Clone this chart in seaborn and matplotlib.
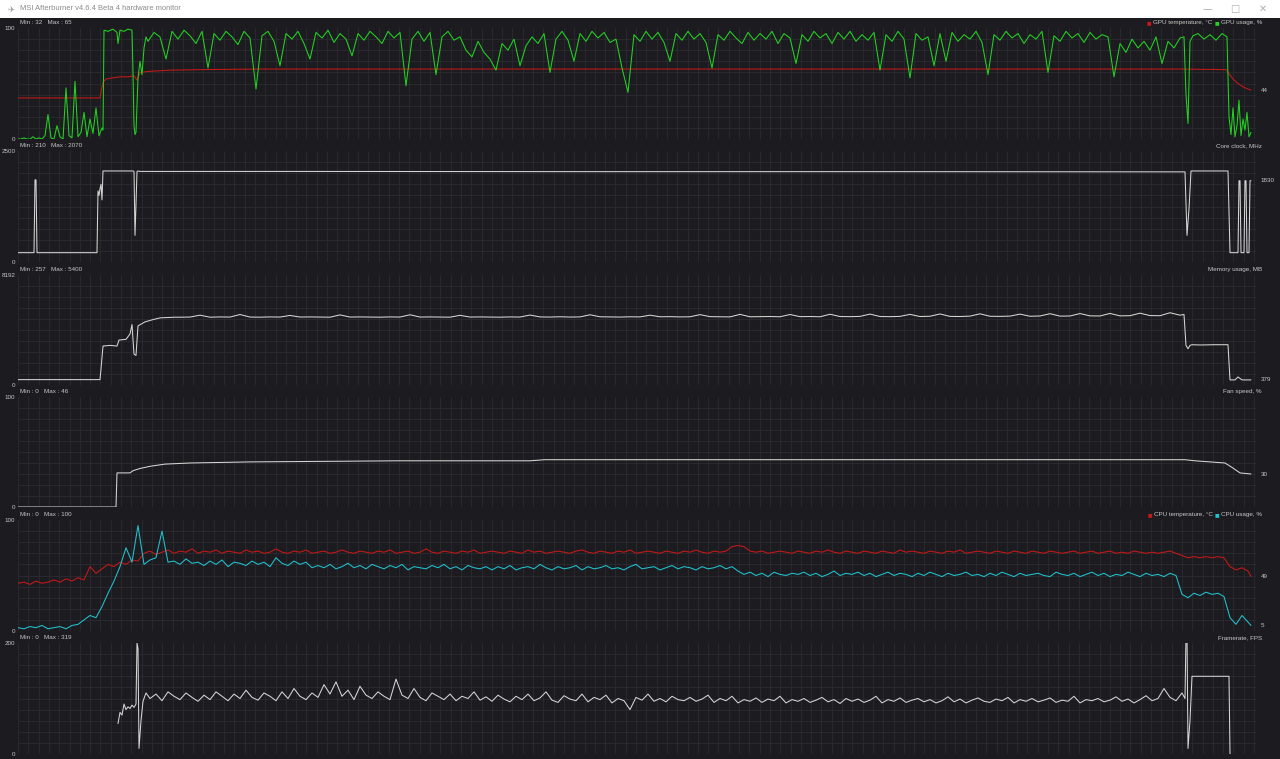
import numpy as np
import pandas as pd
import seaborn as sns
import matplotlib.pyplot as plt
from matplotlib.patches import Rectangle

sns.set_style('dark')
plt.rcParams['font.family'] = ['Liberation Sans', 'DejaVu Sans']
plt.rcParams['font.size'] = 5

BG = '#1c1c20'
GRID = '#2b2b31'
TXT = '#c8c8c8'
GREEN = '#22d422'
RED = '#c81818'
CYAN = '#20c4d0'
WHITE = '#d6d6d6'
FS = 4.5


def ramp(start, step, vals):
    return [start + step * i for i in range(len(vals))]


# ---- GPU usage, % (time in samples) ----
gpu_use_head = [0, 0, 1, 0, 0, 2, 0, 1, 0, 3, 22, 1, 0, 12, 2, 0, 46, 3, 1, 52,
                2, 6, 24, 2, 18, 5, 28, 3, 10]
gpu_use_jump_t = [85, 86, 90, 95, 99, 100, 101, 102, 106, 110, 114, 115, 116, 117,
                  118, 119, 120, 122, 124, 126, 128]
gpu_use_jump = [8, 98, 97, 99, 96, 86, 92, 98, 97, 99, 98, 60, 12, 4, 6, 30, 55,
                70, 58, 82, 92]
gpu_use_main = [88, 96, 92, 72, 97, 90, 98, 93, 86, 97,
                64, 95, 89, 97, 92, 85, 97, 91, 45, 93,
                97, 88, 66, 95, 90, 97, 86, 72, 96, 91,
                98, 87, 95, 90, 75, 95, 89, 97, 92, 86,
                97, 91, 96, 48, 90, 97, 88, 96, 58, 92,
                97, 89, 92, 80, 74, 88, 78, 72, 62, 86,
                80, 90, 66, 84, 92, 86, 95, 60, 90, 97,
                89, 70, 95, 88, 97, 91, 96, 87, 90, 64,
                42, 94, 88, 97, 90, 96, 87, 70, 95, 89,
                97, 90, 95, 87, 64, 94, 89, 97, 91, 86,
                96, 89, 95, 90, 97, 86, 95, 91, 68, 94,
                88, 97, 91, 95, 86, 96, 90, 97, 88, 94,
                89, 96, 62, 94, 88, 97, 90, 55, 95, 89,
                92, 66, 95, 70, 96, 88, 94, 90, 97, 87,
                58, 94, 89, 97, 91, 95, 86, 94, 90, 97,
                60, 93, 88, 97, 91, 95, 87, 96, 90, 94,
                92, 56, 86, 78, 90, 82, 88, 80, 92, 68,
                88, 82, 91]
gpu_use_tail_t = [1166, 1168, 1170, 1172, 1175, 1180, 1186, 1192, 1198, 1204, 1209,
                  1211, 1213, 1215, 1217, 1219, 1221, 1223, 1225, 1227, 1229, 1231, 1233]
gpu_use_tail = [92, 40, 14, 88, 93, 95, 90, 94, 89, 95, 92, 20, 4, 28, 2, 12, 35,
                3, 18, 8, 24, 2, 6]

# ---- GPU temperature, C ----
gpu_temp_t = [0, 82, 83, 85, 88, 94, 102, 110, 116, 119, 122, 132, 152, 182, 242,
              382, 582, 782, 982, 1082, 1162, 1208, 1211, 1215, 1220, 1225, 1230, 1233]
gpu_temp = [37, 37, 42, 51, 54, 55, 56, 56, 57, 53, 60, 61, 62, 62.5, 63, 63, 63,
            63, 63, 63, 63, 62.5, 59, 54, 50, 47, 45, 44]

# ---- Core clock, MHz ----
clock_t = [0, 16, 17, 18, 19, 20, 79, 80, 81, 82, 83, 84, 85, 115, 116, 117, 118,
           119, 120, 122, 282, 582, 882, 1166, 1167, 1169, 1171, 1173, 1210, 1212,
           1220, 1221, 1222, 1223, 1226, 1227, 1228, 1229, 1231, 1232, 1233]
clock = [210, 210, 1850, 1850, 210, 210, 210, 1600, 1500, 1650, 1750, 1400, 2050,
         2050, 2040, 600, 1300, 2040, 2050, 2040, 2040, 2035, 2035, 2030, 2030, 600,
         1200, 2050, 2050, 210, 210, 1830, 1830, 210, 210, 1830, 1830, 210, 210,
         1830, 1830]

# ---- Memory usage, MB ----
mem_head_t = [0, 82, 83, 85, 92, 99, 101, 108, 112, 114, 116, 118, 120, 127, 134,
              142, 157]
mem_head = [400, 400, 1200, 2900, 2950, 2900, 3350, 3400, 3800, 4500, 2300, 2200,
            4400, 4700, 4850, 5000, 5050]
mem_main = [5050, 5060, 5200, 5050, 5070, 5060, 5250, 5060, 5050, 5070,
            5060, 5180, 5060, 5070, 5060, 5050, 5220, 5060, 5070, 5060,
            5050, 5070, 5060, 5230, 5060, 5070, 5060, 5050, 5190, 5060,
            5070, 5060, 5050, 5070, 5060, 5210, 5070, 5060, 5080, 5060,
            5070, 5230, 5080, 5070, 5060, 5080, 5070, 5200, 5080, 5090,
            5070, 5080, 5240, 5090, 5080, 5070, 5260, 5080, 5090, 5100,
            5080, 5250, 5090, 5100, 5080, 5270, 5100, 5090, 5110, 5280,
            5100, 5090, 5110, 5260, 5100, 5120, 5290, 5110, 5100, 5130,
            5300, 5120, 5110, 5130, 5280, 5120, 5140, 5310, 5130, 5140,
            5320, 5150, 5140, 5330, 5150, 5160, 5350, 5170, 5160, 5380,
            5200]
mem_tail_t = [1166, 1168, 1170, 1172, 1174, 1182, 1197, 1210, 1212, 1217, 1220,
              1224, 1233]
mem_tail = [5250, 2950, 2700, 2950, 3000, 2980, 3000, 3000, 380, 380, 600, 380, 379]

# ---- Fan speed, % ----
fan_t = [0, 98, 99, 112, 115, 122, 132, 147, 172, 232, 382, 512, 527, 682, 982,
         1167, 1177, 1192, 1207, 1214, 1222, 1233]
fan = [0, 0, 31, 31, 33, 35, 37, 39, 40, 41, 42, 42, 43, 43, 43, 43, 42, 41, 40,
       36, 31, 30]

# ---- CPU temperature, C ----
cpu_temp = [43, 44, 42, 45, 43, 44, 46, 44, 47, 45,
            48, 46, 58, 52, 56, 60, 58, 62, 60, 64,
            63, 70, 72, 69, 71, 73, 70, 72, 71, 74,
            70, 72, 71, 73, 70, 72, 71, 70, 73, 71,
            72, 70, 71, 74, 71, 70, 72, 71, 73, 70,
            71, 72, 70, 71, 73, 71, 70, 72, 71, 70,
            72, 71, 73, 70, 71, 72, 70, 71, 74, 71,
            70, 72, 71, 70, 72, 71, 73, 70, 71, 72,
            71, 70, 72, 71, 70, 73, 71, 72, 70, 71,
            72, 71, 70, 72, 73, 71, 70, 72, 71, 70,
            72, 71, 73, 70, 71, 72, 71, 70, 72, 71,
            70, 72, 71, 73, 71, 70, 72, 71, 72, 76,
            77, 76, 72, 71, 72, 70, 71, 72, 71, 70,
            72, 71, 70, 72, 71, 73, 71, 70, 72, 71,
            70, 72, 71, 70, 72, 71, 70, 73, 71, 72,
            71, 70, 72, 71, 70, 72, 71, 73, 70, 71,
            72, 71, 70, 72, 71, 70, 72, 71, 70, 72,
            71, 70, 72, 71, 70, 71, 72, 70, 71, 72,
            70, 71, 72, 70, 71, 70, 72, 71, 70, 71,
            70, 71, 72, 70, 68, 66, 67, 66, 67, 66,
            67, 66, 58, 55, 57, 54, 49]

# ---- CPU usage, % ----
cpu_use = [3, 2, 4, 3, 5, 2, 3, 4, 2, 5,
           6, 10, 14, 12, 22, 34, 45, 58, 75, 62,
           95, 60, 64, 66, 90, 62, 63, 60, 65, 61,
           62, 59, 63, 60, 64, 58, 62, 61, 59, 63,
           60, 62, 58, 66, 61, 59, 63, 60, 62, 57,
           59, 57, 60, 56, 58, 61, 57, 59, 56, 60,
           58, 56, 59, 57, 60, 55, 58, 57, 56, 59,
           57, 60, 56, 58, 55, 59, 57, 56, 58, 55,
           58, 56, 59, 55, 57, 58, 56, 60, 57, 55,
           58, 56, 57, 59, 55, 58, 56, 57, 59, 56,
           57, 55, 58, 60, 56, 57, 58, 55, 57, 59,
           56, 58, 57, 55, 58, 56, 57, 59, 56, 58,
           54, 51, 53, 50, 52, 49, 53, 51, 50, 52,
           51, 53, 50, 52, 49, 51, 54, 50, 52, 51,
           53, 50, 52, 49, 51, 53, 50, 52, 51, 49,
           52, 50, 53, 51, 49, 52, 50, 51, 53, 50,
           51, 49, 52, 50, 53, 51, 49, 52, 50, 51,
           52, 50, 49, 53, 51, 50, 52, 49, 51, 53,
           50, 52, 49, 51, 50, 53, 51, 49, 52, 50,
           51, 49, 52, 50, 33, 30, 34, 32, 35, 33,
           34, 31, 12, 6, 14, 8, 5]

# ---- Framerate, FPS ----
fps_head_t = [100, 102, 104, 106, 108, 110, 112, 114, 116, 118, 119, 120, 121, 123,
              125, 128]
fps_head = [55, 75, 70, 90, 80, 85, 82, 88, 84, 90, 200, 190, 10, 60, 95, 110]
fps_main = [100, 108, 96, 112, 104, 98, 110, 102, 95, 106,
            98, 112, 104, 96, 108, 100, 115, 102, 97, 110,
            104, 96, 112, 100, 118, 104, 98, 110, 102, 125,
            108, 130, 104, 115, 98, 122, 106, 100, 112, 104,
            98, 135, 106, 100, 118, 102, 96, 110, 104, 98,
            108, 96, 104, 100, 112, 97, 103, 95, 106, 99,
            94, 104, 98, 108, 96, 101, 112, 97, 93, 105,
            99, 96, 108, 94, 102, 98, 106, 92, 100, 96,
            80, 102, 97, 108, 95, 100, 94, 104, 98, 96,
            102, 95, 99, 106, 93, 100, 96, 104, 92, 98,
            95, 101, 93, 99, 96, 104, 92, 98, 95, 100,
            93, 97, 102, 94, 98, 91, 100, 95, 99, 93,
            97, 104, 92, 98, 95, 101, 93, 97, 100, 94,
            98, 92, 96, 103, 94, 99, 92, 97, 101, 95,
            93, 99, 96, 102, 92, 98, 95, 100, 94, 97,
            101, 93, 97, 95, 104, 92, 98, 96, 100, 94,
            97, 103, 95, 99, 92, 98, 105, 96, 100, 118,
            102, 96, 110]
fps_tail_t = [1167, 1168, 1169, 1170, 1172, 1174, 1210, 1211, 1212]
fps_tail = [100, 215, 215, 10, 60, 140, 140, 140, 0]


def frame(*parts):
    t, v = [], []
    for times, vals in parts:
        t += list(times)
        v += list(vals)
    return pd.DataFrame({'t': t, 'v': v})


cpu_t = ramp(0, 6, cpu_temp[:-1]) + [1233]

series = {
    'gpu_use': frame((ramp(0, 3, gpu_use_head), gpu_use_head), (gpu_use_jump_t, gpu_use_jump),
                     (ramp(130, 6, gpu_use_main), gpu_use_main), (gpu_use_tail_t, gpu_use_tail)),
    'gpu_temp': frame((gpu_temp_t, gpu_temp)),
    'clock': frame((clock_t, clock)),
    'mem': frame((mem_head_t, mem_head), (ramp(162, 10, mem_main), mem_main), (mem_tail_t, mem_tail)),
    'fan': frame((fan_t, fan)),
    'cpu_temp': frame((cpu_t, cpu_temp)),
    'cpu_use': frame((cpu_t, cpu_use)),
    'fps': frame((fps_head_t, fps_head), (ramp(132, 6, fps_main), fps_main), (fps_tail_t, fps_tail)),
}

# panel layout in pixels: (top, bottom)
W, H = 1280, 759
LEFT, RIGHT = 18, 1256
panels = [
    dict(top=28, bot=139, ymax=100, mm='Min : 32   Max : 65', lines=[('gpu_temp', RED), ('gpu_use', GREEN)],
         legend=[('GPU temperature, \u00b0C', RED), ('GPU usage, %', GREEN)], cur='44', cur_v=44),
    dict(top=151, bot=262, ymax=2500, mm='Min : 210   Max : 2070', lines=[('clock', WHITE)],
         legend=[('Core clock, MHz', None)], cur='1830', cur_v=1830),
    dict(top=275, bot=385, ymax=8192, mm='Min : 257   Max : 5400', lines=[('mem', WHITE)],
         legend=[('Memory usage, MB', None)], cur='379', cur_v=379),
    dict(top=397, bot=507, ymax=100, mm='Min : 0   Max : 46', lines=[('fan', WHITE)],
         legend=[('Fan speed, %', None)], cur='30', cur_v=30),
    dict(top=520, bot=631, ymax=100, mm='Min : 0   Max : 100', lines=[('cpu_temp', RED), ('cpu_use', CYAN)],
         legend=[('CPU temperature, \u00b0C', RED), ('CPU usage, %', CYAN)], cur='49', cur_v=49, cur2='5', cur2_v=5),
    dict(top=643, bot=754, ymax=200, mm='Min : 0   Max : 319', lines=[('fps', WHITE)],
         legend=[('Framerate, FPS', None)], cur=None),
]

fig = plt.figure(figsize=(12.8, 7.59), dpi=100, facecolor=BG)

# window title bar
TB = 18
fig.patches.append(Rectangle((0, 1 - TB / H), 1, TB / H, transform=fig.transFigure,
                             facecolor='white', edgecolor='none', zorder=0))
fig.text(20 / W, 1 - 9 / H, 'MSI Afterburner v4.6.4 Beta 4 hardware monitor',
         color='#8a8a8a', fontsize=5.4, va='center', ha='left')
fig.text(7 / W, 1 - 9 / H, '\u2708', color='#9a9a9a', fontsize=6, va='center', ha='left',
         family='DejaVu Sans')
for xp, s in [(1207, '\u2014'), (1235, '\u25a1'), (1263, '\u2715')]:
    fig.text(xp / W, 1 - 9 / H, s, color='#b0b0b0', fontsize=7, va='center', ha='center',
             family='DejaVu Sans')

for p in panels:
    ax = fig.add_axes([LEFT / W, 1 - p['bot'] / H, (RIGHT - LEFT) / W, (p['bot'] - p['top']) / H])
    ax.set_facecolor(BG)
    for key, col in p['lines']:
        sns.lineplot(data=series[key], x='t', y='v', ax=ax, color=col, linewidth=0.75,
                     estimator=None, sort=False)
    ax.set_xlim(0, RIGHT - LEFT)
    ax.set_ylim(0, p['ymax'])
    ax.set_xticks(np.arange(0, RIGHT - LEFT, 10.3), minor=True)
    ax.set_yticks(np.linspace(0, p['ymax'], 11), minor=True)
    ax.set_yticks([0, p['ymax']])
    ax.set_yticklabels(['0', str(p['ymax'])])
    ax.set_xticks([])
    ax.tick_params(axis='y', which='both', length=0, pad=2, labelsize=FS, labelcolor=TXT)
    ax.tick_params(axis='x', which='both', length=0)
    ax.grid(which='minor', color=GRID, linewidth=0.6)
    ax.set_xlabel('')
    ax.set_ylabel('')
    for s in ax.spines.values():
        s.set_visible(False)

    # min / max header and legend
    fig.text(20 / W, 1 - (p['top'] - 5.5) / H, p['mm'], color=TXT, fontsize=FS, va='center', ha='left')
    xr = 1262
    for label, col in reversed(p['legend']):
        t = fig.text(xr / W, 1 - (p['top'] - 5.5) / H, label, color=TXT, fontsize=FS, va='center', ha='right')
        fig.canvas.draw()
        bb = t.get_window_extent()
        if col is not None:
            fig.text((bb.x0 - 4) / W, 1 - (p['top'] - 5.5) / H, '\u25a0', color=col, fontsize=3.5,
                     va='center', ha='center', family='DejaVu Sans')
        xr = bb.x0 - 8

    if p['cur'] is not None:
        ax.text(1.004, p['cur_v'] / p['ymax'], p['cur'], transform=ax.transAxes, color=TXT,
                fontsize=FS, va='center', ha='left')
    if p.get('cur2') is not None:
        ax.text(1.004, p['cur2_v'] / p['ymax'], p['cur2'], transform=ax.transAxes, color=TXT,
                fontsize=FS, va='center', ha='left')

fig.savefig('out.png', dpi=100, facecolor=BG)
